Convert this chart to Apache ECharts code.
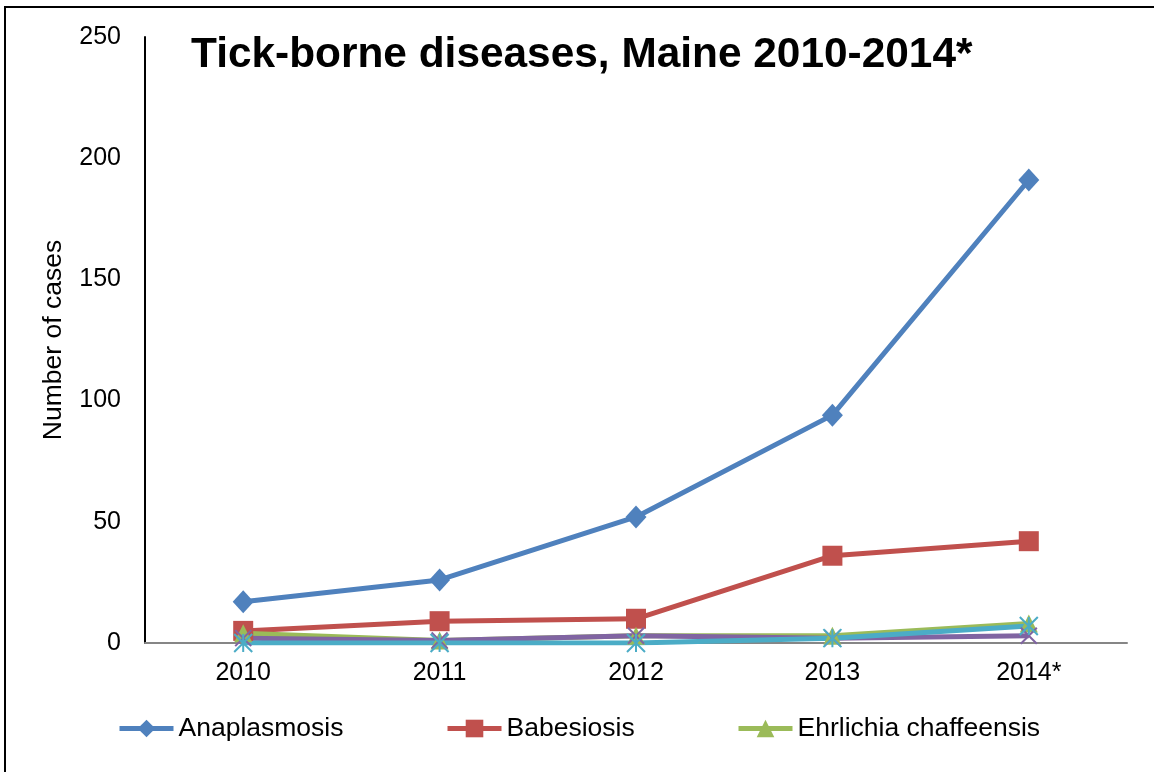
<!DOCTYPE html>
<html>
<head>
<meta charset="utf-8">
<script src="https://cdn.jsdelivr.net/npm/echarts@6/dist/echarts.min.js"></script>
<style>
	html, body { margin: 0; padding: 0; overflow: hidden; background: #fff; }
	#main { width: 1154px; height: 772px; }
	#frame { position: absolute; left: 4px; top: 6px; width: 2000px; height: 2000px; border: 2px solid #000; pointer-events: none; }
</style>
</head>
<body>
<div id="main"></div>
<div id="frame"></div>
<script>
var years = [ '2010', '2011', '2012', '2013', '2014*' ];
var anaplasmosis = [ 17, 26, 52, 94, 191 ];
var babesiosis = [ 5, 9, 10, 36, 42 ];
var ehrlichia = [ 4, 1, 3, 3, 8 ];
var purpleSeries = [ 2, 1, 3, 2, 3 ];
var cyanSeries = [ 0, 0, 0, 2, 7 ];
var yTicks = { min : 0, max : 250, interval : 50 };

var fontName = '"Liberation Sans", Arial, sans-serif';
var xMark = 'path://M0,0 L20,20 M20,0 L0,20';
var starMark = 'path://M0,0 L20,20 M20,0 L0,20 M10,0 L10,20';

var chart = echarts.init(document.getElementById('main'));

function makeLine(name, data, color, symbol, size, extra) {
	var s = {
		name : name,
		type : 'line',
		data : data,
		symbol : symbol,
		symbolSize : size,
		showSymbol : true,
		smooth : false,
		lineStyle : {
			color : color,
			width : 5
		},
		itemStyle : {
			color : color
		},
		emphasis : { disabled : true }
	};
	if (extra) {
		s.itemStyle = {
			color : 'rgba(0,0,0,0)',
			borderColor : color,
			borderWidth : 2
		};
	}
	return s;
}

function makeLegend(name, left) {
	return {
		data : [ name ],
		left : left,
		top : 715,
		padding : 0,
		itemWidth : 54,
		itemHeight : 22,
		itemGap : 0,
		selectedMode : false,
		lineStyle : { width : 5 },
		textStyle : {
			color : '#000',
			fontSize : 26.5,
			fontFamily : fontName
		}
	};
}

var option = {
	animation : false,
	title : {
		text : 'Tick-borne diseases, Maine 2010-2014*',
		left : 186,
		top : 29,
		textStyle : {
			color : '#000',
			fontSize : 42.4,
			fontWeight : 'bold',
			fontFamily : fontName
		}
	},
	legend : [
		makeLegend('Anaplasmosis', 117),
		makeLegend('Babesiosis', 445),
		makeLegend('Ehrlichia chaffeensis', 736)
	],
	grid : {
		left : 145,
		right : 27,
		top : 37,
		bottom : 129
	},
	xAxis : {
		type : 'category',
		data : years,
		boundaryGap : true,
		axisLine : {
			lineStyle : { color : '#868686', width : 2 }
		},
		axisTick : { show : false },
		axisLabel : {
			color : '#000',
			fontSize : 25,
			fontFamily : fontName,
			margin : 18
		}
	},
	yAxis : {
		type : 'value',
		min : yTicks.min,
		max : yTicks.max,
		interval : yTicks.interval,
		name : 'Number of cases',
		nameLocation : 'middle',
		nameGap : 78,
		nameTextStyle : {
			color : '#000',
			fontSize : 26.5,
			fontFamily : fontName
		},
		axisLine : {
			show : true,
			lineStyle : { color : '#000', width : 2 }
		},
		axisTick : { show : false },
		splitLine : { show : false },
		axisLabel : {
			color : '#000',
			fontSize : 25,
			fontFamily : fontName,
			margin : 24
		}
	},
	series : [
		makeLine('Anaplasmosis', anaplasmosis, '#4F81BD', 'diamond', [ 21, 23 ]),
		makeLine('Babesiosis', babesiosis, '#C0504D', 'rect', 20),
		makeLine('Ehrlichia chaffeensis', ehrlichia, '#9BBB59', 'triangle', 18),
		makeLine('Series 4', purpleSeries, '#8064A2', xMark, 16, true),
		makeLine('Series 5', cyanSeries, '#4BACC6', starMark, 18, true)
	]
};

chart.setOption(option);
</script>
</body>
</html>
